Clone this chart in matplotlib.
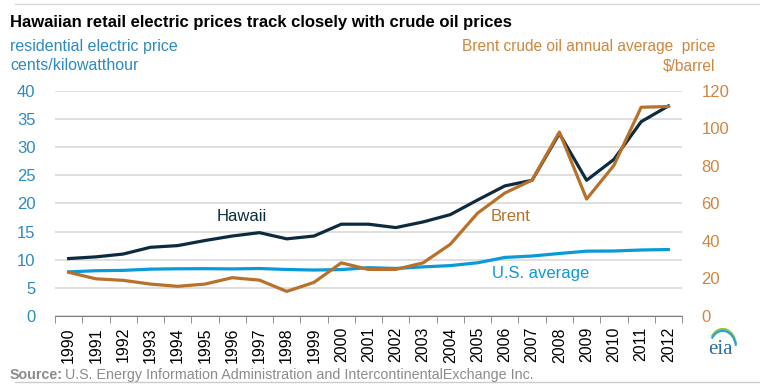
import matplotlib.pyplot as plt
import numpy as np
from matplotlib.patches import Arc

plt.rcParams['font.family'] = ['Liberation Sans', 'DejaVu Sans']

years = list(range(1990, 2013))
hawaii = [10.2, 10.5, 11.0, 12.2, 12.5, 13.4, 14.2, 14.8, 13.7, 14.2, 16.3, 16.3, 15.7,
          16.7, 18.0, 20.6, 23.1, 24.1, 32.4, 24.1, 27.8, 34.5, 37.3]
us_avg = [7.83, 8.04, 8.1, 8.32, 8.38, 8.40, 8.36, 8.43, 8.26, 8.16, 8.24, 8.58, 8.44,
          8.72, 8.95, 9.45, 10.40, 10.65, 11.1, 11.51, 11.54, 11.72, 11.8]
brent = [23.3, 19.8, 19.0, 17.0, 15.8, 17.0, 20.4, 19.1, 13.1, 17.9, 28.3, 24.8, 24.8,
         28.3, 38.2, 54.8, 65.5, 72.4, 98.0, 62.3, 80.2, 111.2, 111.6]

c_hi = '#0d2b3e'
c_us = '#0a9ad8'
c_br = '#b7712b'
c_lt = '#2d8ac2'
c_rt = '#cf8640'

fig = plt.figure(figsize=(7.6, 3.87), dpi=100)
ax = fig.add_axes([0.0724, 0.1835, 0.825, 0.582])
x = np.arange(len(years))

ax.set_xlim(-0.5, len(years) - 0.5)
ax.set_ylim(0, 40)
ax.set_yticks(range(0, 41, 5))
ax.grid(axis='y', color='#d9d9d9', lw=1.2)
ax.set_axisbelow(True)
for s in ['top', 'left', 'right']:
    ax.spines[s].set_visible(False)
ax.spines['bottom'].set_color('#808080')
ax.tick_params(axis='y', length=0, labelsize=12, labelcolor=c_lt, pad=14)

ax.set_xticks(x)
ax.set_xticklabels([str(y) for y in years], rotation=90, fontsize=11.5)
ax.tick_params(axis='x', which='major', length=0, pad=8)
ax.set_xticks(np.arange(-0.5, len(years)), minor=True)
ax.tick_params(axis='x', which='minor', length=5, color='#808080')

ax.plot(x, us_avg, color=c_us, lw=2.3, zorder=3)
ax.plot(x, hawaii, color=c_hi, lw=2.3, zorder=4)

ax2 = ax.twinx()
ax2.set_ylim(0, 120)
ax2.set_yticks(range(0, 121, 20))
for s in ['top', 'left', 'right', 'bottom']:
    ax2.spines[s].set_visible(False)
ax2.tick_params(axis='y', length=0, labelsize=12, labelcolor=c_rt, pad=14)
ax2.plot(x, brent, color=c_br, lw=2.3, zorder=5)

ax.text(6.35, 17.6, 'Hawaii', color=c_hi, fontsize=12, ha='center', va='center')
ax2.text(16.2, 52.8, 'Brent', color=c_br, fontsize=12, ha='center', va='center')
ax.text(17.3, 7.5, 'U.S. average', color=c_us, fontsize=12, ha='center', va='center')

fig.text(0.013, 0.93, 'Hawaiian retail electric prices track closely with crude oil prices',
         fontsize=12, fontweight='bold', color='black')
fig.text(0.013, 0.868, 'residential electric price', fontsize=11.5, color=c_lt)
fig.text(0.013, 0.818, 'cents/kilowatthour', fontsize=11.5, color=c_lt)
fig.text(0.941, 0.868, 'Brent crude oil annual average  price', fontsize=11.2, color=c_rt, ha='right')
fig.text(0.941, 0.818, '$/barrel', fontsize=11.2, color=c_rt, ha='right')

fig.text(0.013, 0.02, 'Source:', fontsize=10.3, fontweight='bold', color='#8c8c8c')
fig.text(0.086, 0.02, 'U.S. Energy Information Administration and IntercontinentalExchange Inc.',
         fontsize=10.3, color='#8c8c8c')
fig.text(0.948, 0.085, 'eia', fontsize=15, color='#2a6fa0', ha='center', family='Liberation Serif')
fig.add_artist(Arc((0.951, 0.105), 0.035, 0.09, theta1=20, theta2=120, color='#8cc63f', lw=1.5))
fig.add_artist(Arc((0.951, 0.100), 0.035, 0.09, theta1=20, theta2=120, color='#2aa0d8', lw=1.5))

fig.add_artist(plt.Line2D([0.02, 1.0], [0.012, 0.012], color='#cccccc', lw=1))
fig.add_artist(plt.Line2D([0.02, 1.0], [0.99, 0.99], color='#d9d9d9', lw=1))

fig.savefig('out.png', dpi=100)
